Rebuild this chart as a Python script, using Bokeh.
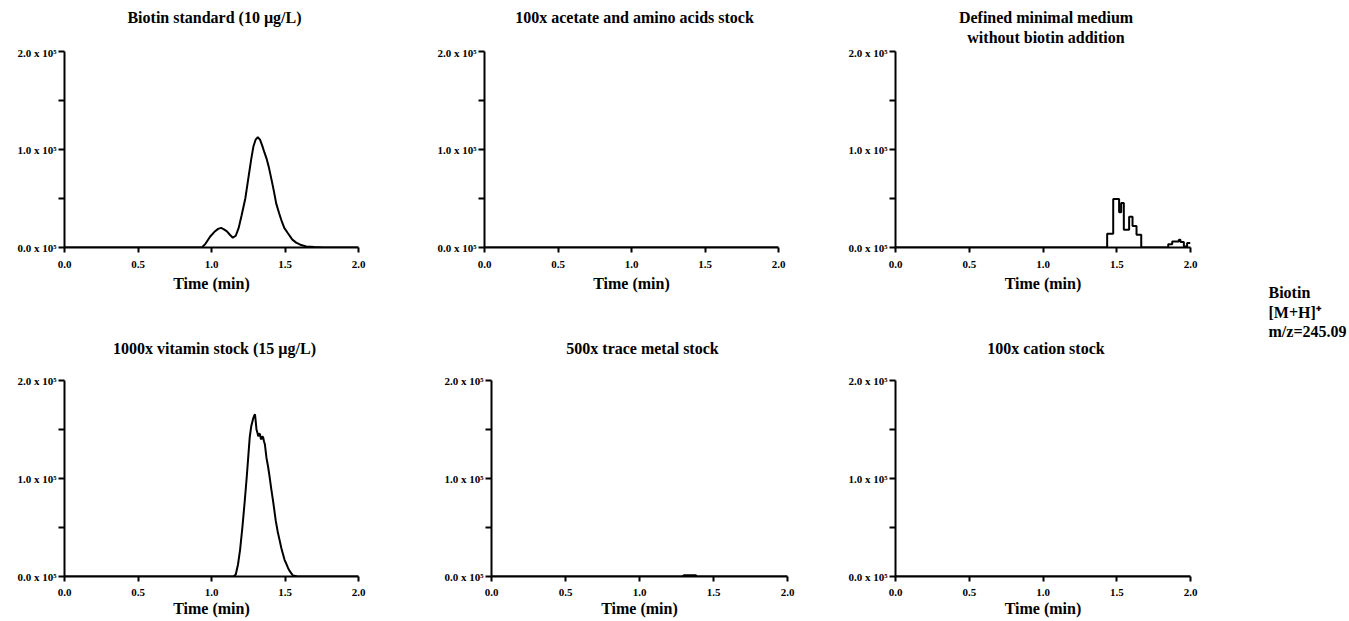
from bokeh.plotting import figure
from bokeh.layouts import row, column
from bokeh.models import Range1d, FixedTicker, Label
from bokeh.embed import file_html
from bokeh.resources import INLINE

FONT = "Liberation Serif"

# ---- data (intensity in units of 1e5 counts) ----
X_TICKS = [0.0, 0.5, 1.0, 1.5, 2.0]
X_LABELS = ["0.0", "0.5", "1.0", "1.5", "2.0"]
Y_TICKS = [0.0, 0.5, 1.0, 1.5, 2.0]
Y_LABELS = ["0.0 x 10\u2075", "", "1.0 x 10\u2075", "", "2.0 x 10\u2075"]
SCALE = 1e5

TITLES = [
    ["Biotin standard (10 \u00b5g/L)"],
    ["100x acetate and amino acids stock"],
    ["Defined minimal medium", "without biotin addition"],
    ["1000x vitamin stock (15 \u00b5g/L)"],
    ["500x trace metal stock"],
    ["100x cation stock"],
]

std_t = [0.0, 0.935, 0.96, 0.99, 1.02, 1.045, 1.065, 1.085, 1.105, 1.125,
         1.145, 1.165, 1.185, 1.205, 1.23, 1.25, 1.27, 1.285, 1.30, 1.315,
         1.33, 1.345, 1.36, 1.375, 1.39, 1.41, 1.425, 1.44, 1.46, 1.475,
         1.495, 1.52, 1.55, 1.576, 1.61, 1.644, 1.70, 1.76, 2.0]
std_y = [0, 0, 0.04, 0.11, 0.16, 0.19, 0.2, 0.185, 0.165, 0.13,
         0.1, 0.12, 0.2, 0.33, 0.5, 0.7, 0.9, 1.03, 1.1, 1.125,
         1.1, 1.04, 0.97, 0.905, 0.82, 0.68, 0.57, 0.45, 0.35, 0.28,
         0.2, 0.145, 0.08, 0.05, 0.025, 0.01, 0.004, 0, 0]

acet_t = [0.0, 2.0]
acet_y = [0.0, 0.0]

dmm_t = [0.0, 1.435, 1.476, 1.516, 1.53, 1.548, 1.584, 1.607, 1.634, 1.666,
         1.849, 1.876, 1.921, 1.932, 1.955, 1.977, 2.0]
dmm_y = [0, 0.14, 0.495, 0.36, 0.455, 0.18, 0.315, 0.22, 0.13, 0,
         0.034, 0.06, 0.08, 0.055, 0.01, 0.045, 0.045]

vit_t = [0.0, 1.15, 1.165, 1.18, 1.195, 1.21, 1.225, 1.24, 1.25, 1.26,
         1.27, 1.278, 1.285, 1.29, 1.296, 1.301, 1.306, 1.312, 1.318, 1.324,
         1.33, 1.335, 1.34, 1.346, 1.351, 1.357, 1.363, 1.374, 1.385, 1.396,
         1.407, 1.419, 1.428, 1.437, 1.45, 1.464, 1.475, 1.486, 1.497, 1.509,
         1.52, 1.53, 1.542, 1.554, 1.58, 1.61, 2.0]
vit_y = [0, 0, 0.02, 0.12, 0.28, 0.5, 0.75, 1.02, 1.22, 1.42,
         1.53, 1.58, 1.62, 1.64, 1.655, 1.58, 1.50, 1.47, 1.43, 1.46,
         1.45, 1.41, 1.40, 1.43, 1.42, 1.38, 1.35, 1.21, 1.12, 1.01,
         0.89, 0.77, 0.67, 0.57, 0.46, 0.366, 0.29, 0.23, 0.17, 0.13,
         0.09, 0.06, 0.035, 0.01, 0.003, 0, 0]

tm_t = [0.0, 1.29, 1.30, 1.38, 1.39, 2.0]
tm_y = [0, 0, 0.012, 0.012, 0, 0]

cat_t = [0.0, 2.0]
cat_y = [0.0, 0.0]

ANNOT = ["Biotin", "[M+H]\u207a", "m/z=245.09"]

FRAME_H = 196


def panel(t, y, width, height, left, top, frame_w, tick_standoff, label_standoff, step=False):
    bottom = height - top - FRAME_H
    p = figure(width=width, height=height, output_backend="svg", toolbar_location=None,
               x_range=Range1d(0, 2.0), y_range=Range1d(0, 2.0 * SCALE),
               min_border_left=left, min_border_top=top, min_border_bottom=bottom,
               min_border_right=width - left - frame_w)
    p.outline_line_color = None
    p.grid.visible = False
    p.background_fill_color = "white"
    p.border_fill_color = "white"
    ys = [v * SCALE for v in y]
    if step:
        p.step(t, ys, mode="after", line_color="black", line_width=2)
    else:
        p.line(t, ys, line_color="black", line_width=2)
    p.xaxis.ticker = FixedTicker(ticks=X_TICKS)
    p.xaxis.major_label_overrides = {v: s for v, s in zip(X_TICKS, X_LABELS)}
    yt = [v * SCALE for v in Y_TICKS]
    p.yaxis.ticker = FixedTicker(ticks=yt)
    p.yaxis.major_label_overrides = {v: s for v, s in zip(yt, Y_LABELS)}
    p.xaxis.axis_label = "Time (min)"
    p.xaxis.axis_label_text_font = FONT
    p.xaxis.axis_label_text_font_style = "bold"
    p.xaxis.axis_label_text_font_size = "16px"
    p.xaxis.axis_label_text_color = "black"
    p.xaxis.axis_label_standoff = label_standoff
    for ax in (p.xaxis, p.yaxis):
        ax.axis_line_width = 2
        ax.axis_line_color = "black"
        ax.major_tick_line_width = 2
        ax.major_tick_line_color = "black"
        ax.major_tick_in = 0
        ax.minor_tick_line_color = None
        ax.major_label_text_font = FONT
        ax.major_label_text_font_style = "bold"
        ax.major_label_text_font_size = "11px"
        ax.major_label_text_color = "black"
    p.xaxis.major_tick_out = 5
    p.xaxis.major_label_standoff = tick_standoff
    p.yaxis.major_tick_out = 6
    p.yaxis.major_label_standoff = 2
    return p


def strip(width, height, titles, centers, first_y, gap):
    s = figure(width=width, height=height, output_backend="svg", toolbar_location=None,
               x_axis_location=None, y_axis_location=None, min_border=0,
               x_range=Range1d(0, 1), y_range=Range1d(0, 1))
    s.outline_line_color = None
    s.grid.visible = False
    for lines, cx in zip(titles, centers):
        for i, line in enumerate(lines):
            s.add_layout(Label(x=cx, y=first_y - gap * i, x_units="screen", y_units="screen",
                               text=line, text_font=FONT, text_font_style="bold",
                               text_font_size="16px", text_align="center",
                               text_baseline="middle", text_color="black"))
    return s


# column geometry: (figure width, left border, frame width)
ROW1 = [(428, 64, 294), (411, 56, 294), (400, 56, 295)]
ROW2 = [(435, 64, 294), (404, 56, 296), (400, 56, 295)]


def centers(spec):
    out, x0 = [], 0
    for w, l, fw in spec:
        out.append(x0 + l + fw / 2 + 3)
        x0 += w
    return out


TOTAL_W = sum(w for w, _, _ in ROW1)

# top row: titles strip 0..46, panels 46..318 (frames 51..247)
s1 = strip(TOTAL_W, 46, TITLES[:3], centers(ROW1), 29, 20)
p1 = panel(std_t, std_y, ROW1[0][0], 272, ROW1[0][1], 5, ROW1[0][2], 8, 4)
p2 = panel(acet_t, acet_y, ROW1[1][0], 272, ROW1[1][1], 5, ROW1[1][2], 8, 4)
p3 = panel(dmm_t, dmm_y, ROW1[2][0], 272, ROW1[2][1], 5, ROW1[2][2], 8, 4, step=True)

# bottom row: titles strip 318..372, panels 372..621 (frames 380..576)
s2 = strip(TOTAL_W, 54, TITLES[3:], centers(ROW2), 24, 20)
p4 = panel(vit_t, vit_y, ROW2[0][0], 249, ROW2[0][1], 8, ROW2[0][2], 7, 1)
p5 = panel(tm_t, tm_y, ROW2[1][0], 249, ROW2[1][1], 8, ROW2[1][2], 7, 1)
p6 = panel(cat_t, cat_y, ROW2[2][0], 249, ROW2[2][1], 8, ROW2[2][2], 7, 1)

pa = figure(width=110, height=621, output_backend="svg", toolbar_location=None,
            x_axis_location=None, y_axis_location=None,
            min_border=0, x_range=Range1d(0, 1), y_range=Range1d(0, 1))
pa.outline_line_color = None
pa.grid.visible = False
for i, s in enumerate(ANNOT):
    pa.add_layout(Label(x=29, y=329 - 19.5 * i, x_units="screen", y_units="screen",
                        text=s, text_font=FONT, text_font_style="bold",
                        text_font_size="16px", text_baseline="middle",
                        text_color="black"))

layout = row(column(s1, row(p1, p2, p3), s2, row(p4, p5, p6)), pa)
open("out.html", "w").write(file_html(layout, INLINE))
